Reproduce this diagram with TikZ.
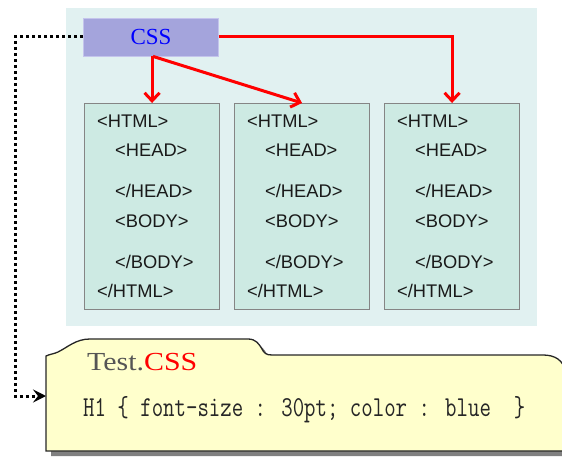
\documentclass[tikz,border=0pt]{standalone}
\usepackage{fontspec}
\usetikzlibrary{arrows.meta}
\newfontfamily\tagfont{Liberation Sans}
\newfontfamily\serfont{Liberation Serif}
\definecolor{panel}{HTML}{E1F1F1}
\definecolor{boxfill}{HTML}{CDEAE3}
\definecolor{boxline}{HTML}{858585}
\definecolor{cssfill}{HTML}{A4A4DC}
\definecolor{cssline}{HTML}{C4C4EC}
\definecolor{folder}{HTML}{FFFFCC}
\definecolor{shadowc}{HTML}{808080}
\definecolor{testgray}{HTML}{555555}
\tikzset{
  htmlbox/.style={draw=boxline, fill=boxfill, line width=1.1pt, minimum width=135pt, minimum height=206pt, inner sep=0pt, anchor=north west},
  tagtext/.style={anchor=base west, inner sep=0pt, font=\tagfont\fontsize{18.3}{20}\selectfont, text=black!90},
  redarrow/.style={draw=red, line width=3pt, -{Straight Barb[length=8pt,width=15pt,line width=3pt]}},
  dotline/.style={line width=3pt, dash pattern=on 3pt off 3pt, -{Stealth[length=13pt,width=13pt,inset=5pt]}}
}
\begin{document}
\begin{tikzpicture}[x=1pt,y=-1pt]
\useasboundingbox (0,0) rectangle (562,457);
% panel
\fill[panel] (66,8) rectangle (537,326);
% css box
\node[draw=cssline, fill=cssfill, line width=0.8pt, minimum width=135pt, minimum height=38pt, inner sep=0pt,
      font=\serfont\fontsize{23}{26}\selectfont, text=blue] (css) at (151,37) {CSS};
% html boxes
\foreach \i/\x in {1/84,2/234,3/384} {
  \node[htmlbox] (h\i) at (\x,103) {};
  \node[tagtext] (h\i a) at (\x+13,128) {<HTML>};
  \node[tagtext] (h\i b) at (\x+31,157) {<HEAD>};
  \node[tagtext] (h\i c) at (\x+31,198) {</HEAD>};
  \node[tagtext] (h\i d) at (\x+31,227) {<BODY>};
  \node[tagtext] (h\i e) at (\x+31,268) {</BODY>};
  \node[tagtext] (h\i f) at (\x+13,297) {</HTML>};
}
% red arrows
\draw[redarrow] (h1.north |- css.south) -- (h1.north);
\draw[redarrow] ([xshift=2pt]css.south) -- (h2.north);
\draw[redarrow] (css.east) -| (h3.north);
% folder shape
\def\folderpath{(46,451) -- (46,356) .. controls (50,354) and (54,354) .. (58,352)
  .. controls (68,347) and (76,339) .. (90,339) -- (248,339)
  .. controls (256,339) and (259,344) .. (262,349) .. controls (264,353) and (266,355) .. (272,355)
  -- (543,355) .. controls (555,355) and (563,360) .. (566,372) -- (572,451) -- cycle}
\fill[shadowc, shift={(5,5)}] \folderpath;
\filldraw[fill=folder, draw=black!85, line width=1.3pt] \folderpath;
\coordinate (fold) at (46,396);
\node[anchor=base west, inner sep=0pt, font=\serfont\fontsize{26}{28}\selectfont] (title) at (87,370)
  {\scalebox{1.15}[1]{\textcolor{testgray}{Test.}\textcolor{red}{CSS}}};
\node[anchor=base west, inner sep=0pt, font=\ttfamily\fontsize{22.2}{24}\selectfont, text=black!85] (rule) at (83,416)
  {\scalebox{1}[1.3]{H1 \{ font-size : 30pt; color : blue \ \}}};
% dotted connector
\draw[dotline] (css.west) -- (15,37) |- (fold);
\end{tikzpicture}
\end{document}
